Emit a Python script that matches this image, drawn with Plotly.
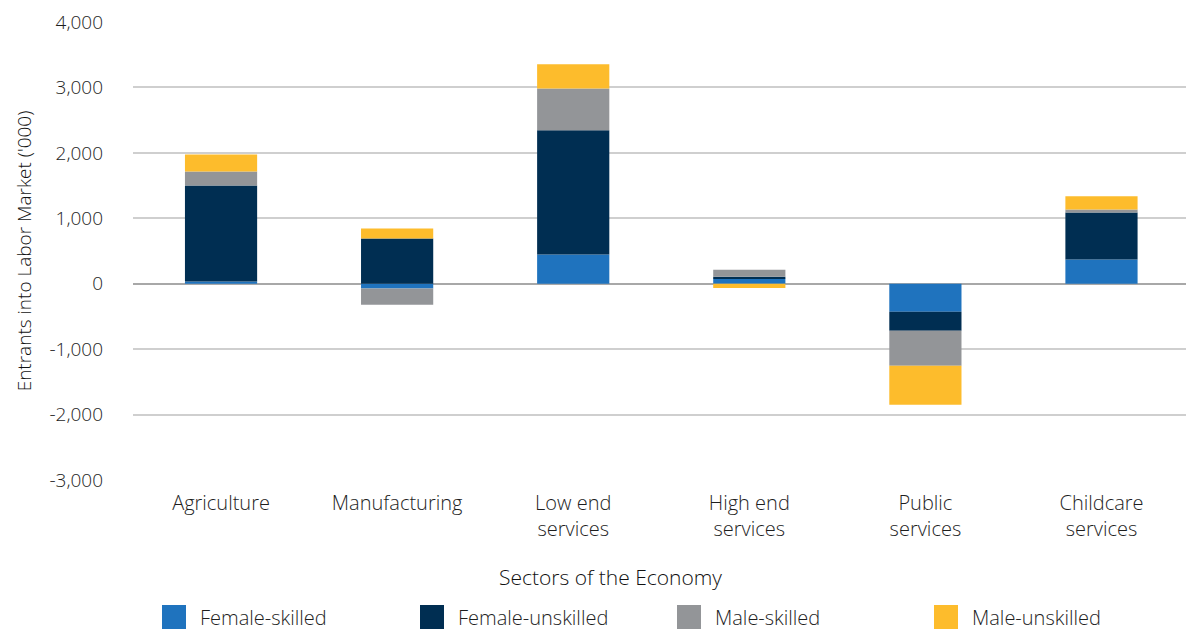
import plotly.graph_objects as go

# Sectors and the change in entrants ('000) for each labour group
sectors = ["Agriculture", "Manufacturing", "Low end<br>services",
           "High end<br>services", "Public<br>services", "Childcare<br>services"]
female_skilled = [35, -75, 445, 75, -430, 370]
female_unskilled = [1465, 690, 1900, 30, -290, 720]
male_skilled = [215, -245, 640, 110, -535, 45]
male_unskilled = [260, 152, 368, -65, -595, 200]

series_names = ["Female-skilled", "Female-unskilled", "Male-skilled", "Male-unskilled"]
series_values = [female_skilled, female_unskilled, male_skilled, male_unskilled]
series_colors = ["#1f73be", "#002e52", "#939598", "#fdbc2c"]

y_ticks = [-3000, -2000, -1000, 0, 1000, 2000, 3000, 4000]
y_tick_text = ["-3,000", "-2,000", "-1,000", "0", "1,000", "2,000", "3,000", "4,000"]

FONT = "Open Sans"
TEXT = "#1e1e1e"
LIGHT = 300

fig = go.Figure()
for name, vals, col in zip(series_names, series_values, series_colors):
    fig.add_trace(go.Bar(x=sectors, y=vals, name=name, marker_color=col,
                         marker_line_width=0, width=0.41, showlegend=False))

W, H = 1186, 630
ML, MR, MT, MB = 133, 0, 22, 150
plot_w = W - ML - MR
plot_h = H - MT - MB


def px_x(px):
    return (px - ML) / plot_w


def px_y(py):
    return (H - MB - py) / plot_h


fig.update_layout(
    width=W, height=H,
    margin=dict(l=ML, r=MR, t=MT, b=MB, pad=0),
    barmode="relative",
    plot_bgcolor="white", paper_bgcolor="white",
    font=dict(family=FONT, size=18, color=TEXT, weight=LIGHT),
    xaxis=dict(range=[-0.5, 5.48], showgrid=False, showline=False, ticks="",
               tickfont=dict(size=20, color=TEXT, weight=LIGHT), ticklabelstandoff=9),
    yaxis=dict(range=[-3000, 4000], tickvals=y_ticks, ticktext=y_tick_text,
               showgrid=True, gridcolor="#cfcfcf", gridwidth=1.5,
               zeroline=True, zerolinecolor="#a8a8a8", zerolinewidth=2,
               showline=False, ticks="", ticklabelstandoff=29,
               tickfont=dict(size=19, color=TEXT, weight=LIGHT),
               title=dict(text="Entrants into Labor Market ('000)",
                          font=dict(size=19, color="#111111", weight=LIGHT), standoff=12)),
)

# Axis title for the sectors
fig.add_annotation(text="Sectors of the Economy", x=px_x(610), y=px_y(577),
                   xref="paper", yref="paper", showarrow=False,
                   xanchor="center", yanchor="middle",
                   font=dict(size=21, color="#111111", weight=LIGHT))

# Legend row: square swatches with labels
legend_x = [162, 420, 677, 934]
sw = 24
ly = 617
for px, name, col in zip(legend_x, series_names, series_colors):
    fig.add_shape(type="rect", xref="paper", yref="paper",
                  x0=px_x(px), x1=px_x(px + sw),
                  y0=px_y(ly + sw / 2), y1=px_y(ly - sw / 2),
                  fillcolor=col, line_width=0, layer="above")
    fig.add_annotation(text=name, xref="paper", yref="paper",
                       x=px_x(px + sw + 12), y=px_y(ly),
                       showarrow=False, xanchor="left", yanchor="middle",
                       font=dict(size=20, color=TEXT, weight=LIGHT))

fig.write_html("out.html")
